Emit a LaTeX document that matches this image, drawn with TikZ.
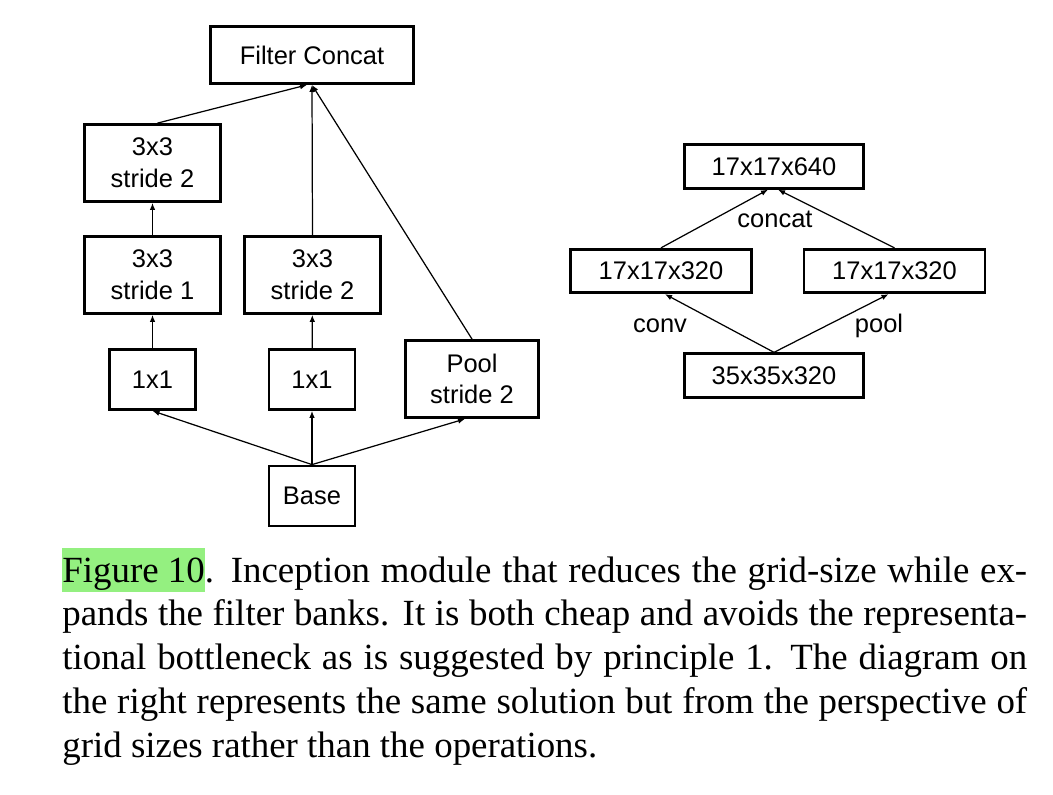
\documentclass[tikz,border=0pt]{standalone}
\usepackage{fontspec}
\setmainfont{Liberation Sans}
\newfontfamily\capfont{Liberation Serif}
\usepackage{xcolor}
\usetikzlibrary{positioning,arrows.meta}
\definecolor{hlgreen}{RGB}{148,240,128}

\begin{document}
\begin{tikzpicture}[x=0.02cm, y=-0.02cm,
  font=\fontsize{14.5}{18}\selectfont,
  op/.style={draw, line width=1.6pt, align=center, inner sep=0pt, minimum width=2.72cm, minimum height=1.54cm},
  sm/.style={op, minimum width=1.72cm, minimum height=1.2cm},
  gr/.style={op, minimum width=3.62cm, minimum height=0.87cm},
  ar/.style={-{Latex[length=4pt,width=3.2pt]}, line width=0.7pt}]
\useasboundingbox (0,0) rectangle (1053,794);
% Inception module (left)
\node[op, minimum width=4.06cm, minimum height=1.14cm] (cat) at (312,55) {Filter Concat};
\node[op] (s2a) at (152.5,163) {3x3\\stride 2};
\node[op] (s1) at (152.5,275) {3x3\\stride 1};
\node[op] (s2b) at (312.5,275) {3x3\\stride 2};
\node[sm] (c1a) at (152.5,379.5) {1x1};
\node[sm] (c1b) at (312,379.5) {1x1};
\node[op, minimum width=2.66cm] (pool) at (472,379) {Pool\\stride 2};
\node[sm] (base) at (312,496) {Base};
\draw[ar] (base.north) -- (c1a.south);
\draw[ar] (base.north) -- (c1b.south);
\draw[ar] (base.north) -- ([xshift=-0.14cm]pool.south);
\draw[ar] (c1a) -- (s1); \draw[ar] (s1) -- (s2a);
\draw[ar] (c1b) -- (s2b);
\draw[ar] ([xshift=0.1cm]s2a.north) -- ([xshift=-0.1cm]cat.south);
\draw[ar] (s2b.north) -- (cat.south);
\draw[ar] (pool.north) -- (cat.south);
% Grid sizes (right)
\node[gr, minimum width=3.58cm] (g640) at (774,166.5) {17x17x640};
\node[gr] (g320a) at (661,271) {17x17x320};
\node[gr] (g320b) at (894.5,271) {17x17x320};
\node[gr, minimum width=3.58cm] (g35) at (774,375.5) {35x35x320};
\draw[ar] (g35.north) -- ([xshift=0.08cm]g320a.south);
\draw[ar] (g35.north) -- ([xshift=-0.12cm]g320b.south);
\draw[ar] (g320a.north) -- ([xshift=-0.12cm]g640.south);
\draw[ar] (g320b.north) -- ([xshift=0.08cm]g640.south);
\node[anchor=base] (lcat) at (775,227) {concat};
\node[anchor=base] (lconv) at (660,332) {conv};
\node[anchor=base] (lpool) at (879,332) {pool};
% Caption
\node[anchor=base west, text width=19.3cm, inner sep=0pt, align=justify,
  font=\capfont\fontsize{21}{25}\selectfont] (caption) at (62,582)
  {{\setlength{\fboxsep}{0pt}\colorbox{hlgreen}{\rule[-0.2cm]{0pt}{0.88cm}Figure 10}}. Inception module that reduces the grid-size while ex-\linebreak pands the filter banks. It is both cheap and avoids the representa-\linebreak tional bottleneck as is suggested by principle 1. The diagram on\linebreak the right represents the same solution but from the perspective of\linebreak grid sizes rather than the operations.};
\end{tikzpicture}
\end{document}
